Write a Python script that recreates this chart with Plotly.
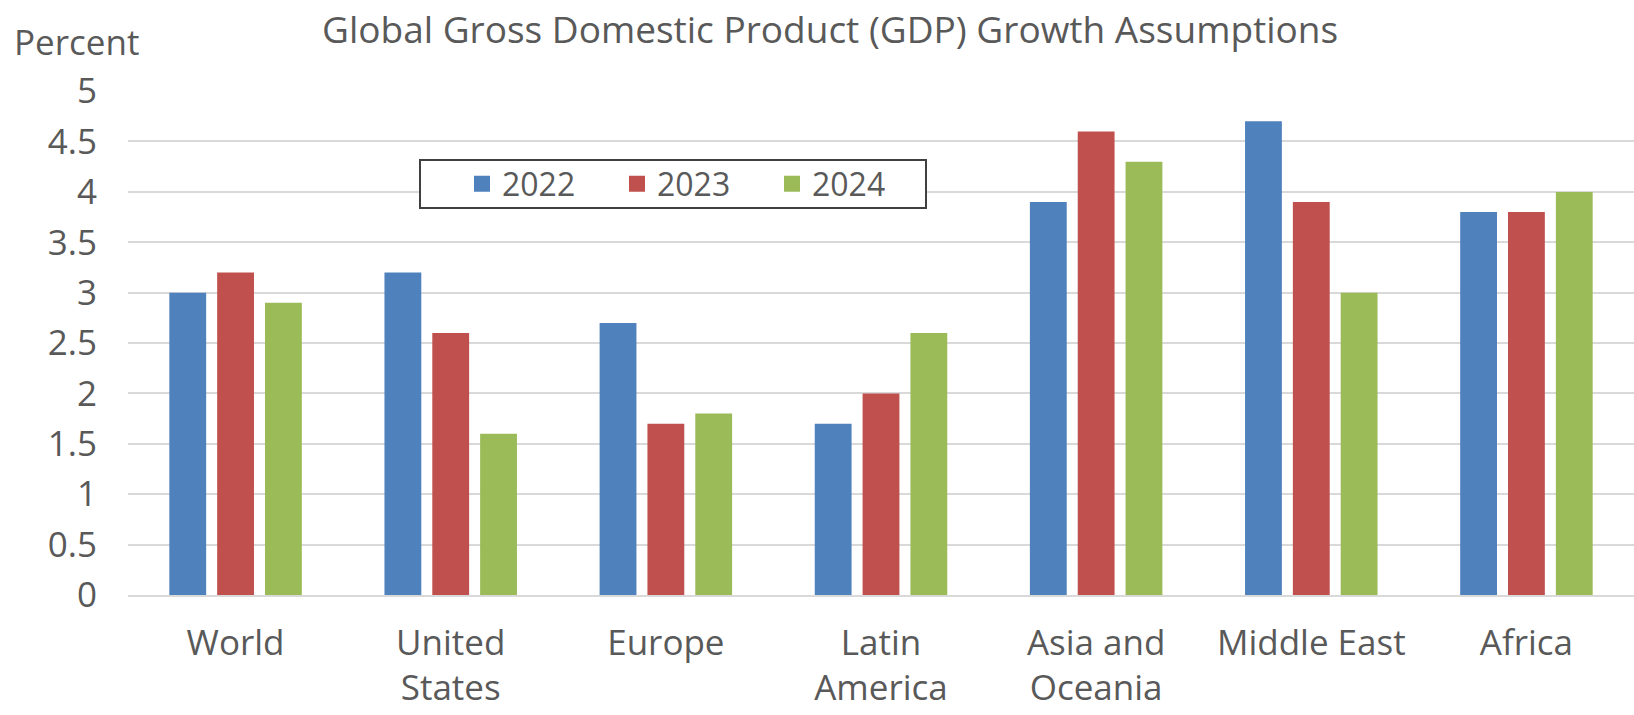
import plotly.graph_objects as go

categories = ["World", "United<br>States", "Europe", "Latin<br>America", "Asia and<br>Oceania", "Middle East", "Africa"]
series_names = ["2022", "2023", "2024"]
v2022 = [3.0, 3.2, 2.7, 1.7, 3.9, 4.7, 3.8]
v2023 = [3.2, 2.6, 1.7, 2.0, 4.6, 3.9, 3.8]
v2024 = [2.9, 1.6, 1.8, 2.6, 4.3, 3.0, 4.0]
y_ticks = [0, 0.5, 1, 1.5, 2, 2.5, 3, 3.5, 4, 4.5, 5]
y_tick_labels = ["0", "0.5", "1", "1.5", "2", "2.5", "3", "3.5", "4", "4.5", "5"]

colors = ["#4F81BD", "#C0504D", "#9BBB59"]
FONT = "Open Sans"
TXT = "#595959"

L, T, B, W, H = 128, 91, 120, 1634, 715
PW = W - L
PH = H - T - B

def px_x(x):
    return (x - L) / PW

def px_y(y):
    return (H - B - y) / PH

fig = go.Figure()
for name, vals, col in zip(series_names, [v2022, v2023, v2024], colors):
    fig.add_trace(go.Bar(x=categories, y=vals, name=name, marker_color=col,
                         marker_line_width=0, legendgroup=name, showlegend=False))
for name, col in zip(series_names, colors):
    fig.add_trace(go.Scatter(x=[None], y=[None], mode="markers", name=name,
                             legendgroup=name,
                             marker=dict(symbol="square", size=16, color=col)))

fig.update_layout(
    width=W, height=H,
    margin=dict(l=L, r=0, t=T, b=B),
    paper_bgcolor="white", plot_bgcolor="white",
    font=dict(family=FONT, size=35, color=TXT),
    barmode="group", bargap=0.333, bargroupgap=0.23,
    showlegend=True,
    legend=dict(orientation="h", x=px_x(462), y=px_y(184), xanchor="left", yanchor="middle",
                borderwidth=0, bgcolor="rgba(0,0,0,0)",
                font=dict(family=FONT, size=32, color=TXT),
                entrywidth=110, entrywidthmode="pixels", itemsizing="trace"),
    shapes=[dict(type="rect", xref="paper", yref="paper",
                 x0=px_x(420), x1=px_x(926), y0=px_y(208), y1=px_y(160),
                 line=dict(color="#404040", width=2), fillcolor="white", layer="above")],
    annotations=[
        dict(text="Global Gross Domestic Product (GDP) Growth Assumptions",
             xref="paper", yref="paper", x=px_x(830), y=px_y(28),
             xanchor="center", yanchor="middle", showarrow=False,
             font=dict(family=FONT, size=37, color=TXT)),
        dict(text="Percent", xref="paper", yref="paper",
             x=px_x(12), y=px_y(42),
             xanchor="left", yanchor="middle", showarrow=False,
             font=dict(family=FONT, size=35, color=TXT)),
    ],
)
fig.update_yaxes(range=[0, 5.001], tickvals=y_ticks, ticktext=y_tick_labels,
                 showgrid=True, gridcolor="#D9D9D9", gridwidth=1.5,
                 zeroline=False, showline=False, ticks="", ticklabelstandoff=30,
                 automargin=False,
                 tickfont=dict(family=FONT, size=35, color=TXT))
fig.update_xaxes(showgrid=False, showline=True, linecolor="#D9D9D9", linewidth=1.5,
                 ticks="", ticklabelstandoff=16, automargin=False,
                 tickfont=dict(family=FONT, size=35, color=TXT))

fig.write_html("out.html")
